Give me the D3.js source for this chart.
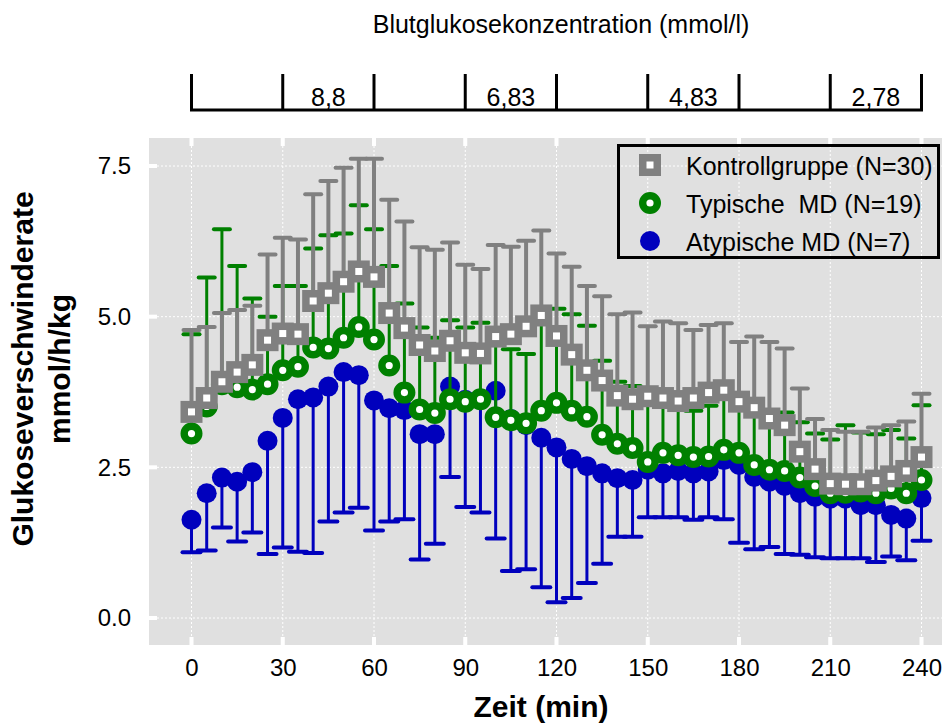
<!DOCTYPE html>
<html>
<head>
<meta charset="utf-8">
<script src="https://cdn.jsdelivr.net/npm/d3@7"></script>
<style>
  body { margin: 0; background: #fff; }
  svg { display: block; font-family: "Liberation Sans", Arial, sans-serif; }
</style>
</head>
<body>
<svg id="chart" width="942" height="727"></svg>
<script>
// time points (min)
const minutes = [0, 5, 10, 15, 20, 25, 30, 35, 40, 45, 50, 55, 60, 65, 70, 75, 80, 85, 90, 95,
  100, 105, 110, 115, 120, 125, 130, 135, 140, 145, 150, 155, 160, 165, 170, 175, 180, 185, 190, 195,
  200, 205, 210, 215, 220, 225, 230, 235, 240];

// Kontrollgruppe: mean and SD (drawn upwards)
const kontrollMean = [3.42, 3.65, 3.92, 4.08, 4.20, 4.61, 4.72, 4.71, 5.26, 5.39, 5.58, 5.75, 5.66, 5.06, 4.81, 4.53, 4.43, 4.60, 4.40, 4.39,
  4.67, 4.71, 4.84, 5.02, 4.68, 4.37, 4.11, 3.94, 3.69, 3.63, 3.68, 3.65, 3.60, 3.65, 3.74, 3.78, 3.59, 3.49, 3.31, 3.20,
  2.76, 2.47, 2.23, 2.22, 2.22, 2.28, 2.35, 2.44, 2.67];
const kontrollSd = [1.36, 1.18, 1.14, 1.03, 0.98, 1.42, 1.59, 1.57, 1.77, 1.86, 1.89, 1.87, 1.96, 1.88, 1.77, 1.62, 1.68, 1.63, 1.46, 1.40,
  1.52, 1.45, 1.42, 1.41, 1.37, 1.46, 1.40, 1.40, 1.35, 1.44, 1.16, 1.27, 1.29, 1.13, 1.12, 1.11, 0.99, 1.18, 1.27, 1.27,
  1.05, 0.83, 0.89, 0.87, 0.87, 0.88, 0.85, 0.82, 1.05];

// Typische MD: mean and SD (drawn upwards)
const typischMean = [3.06, 3.51, 3.88, 3.83, 3.79, 3.88, 4.11, 4.17, 4.49, 4.47, 4.65, 4.83, 4.62, 4.19, 3.74, 3.46, 3.40, 3.63, 3.59, 3.63,
  3.33, 3.28, 3.23, 3.44, 3.57, 3.44, 3.34, 3.04, 2.89, 2.82, 2.59, 2.74, 2.70, 2.67, 2.68, 2.79, 2.74, 2.54, 2.46, 2.44,
  2.33, 2.19, 2.07, 2.08, 2.10, 2.07, 2.15, 2.07, 2.29];
const typischSd = [1.65, 2.14, 2.57, 2.01, 1.51, 1.12, 1.40, 1.34, 1.64, 1.88, 1.73, 2.02, 1.83, 1.65, 1.48, 1.36, 1.25, 1.31, 1.23, 1.27,
  1.22, 1.18, 1.15, 1.61, 1.56, 1.60, 1.51, 1.23, 1.03, 1.03, 1.16, 0.91, 0.90, 0.77, 0.84, 0.96, 0.86, 0.96, 0.96, 0.97,
  0.92, 0.87, 0.89, 1.12, 0.98, 0.98, 0.97, 0.91, 1.24];

// Atypische MD: mean and SD (drawn downwards)
const atypischMean = [1.63, 2.07, 2.33, 2.26, 2.42, 2.94, 3.32, 3.63, 3.66, 3.84, 4.08, 4.03, 3.61, 3.48, 3.45, 3.05, 3.05, 3.84, 3.62, 3.62,
  3.77, 3.30, 3.20, 2.99, 2.83, 2.64, 2.52, 2.40, 2.32, 2.29, 2.46, 2.40, 2.44, 2.40, 2.43, 2.62, 2.54, 2.34, 2.26, 2.19,
  2.07, 2.01, 1.98, 1.98, 1.87, 1.87, 1.71, 1.65, 1.99];
const atypischSd = [0.54, 0.95, 0.83, 0.99, 1.00, 1.88, 2.15, 2.53, 2.58, 2.24, 2.33, 2.20, 2.16, 1.88, 1.81, 2.08, 1.82, 1.50, 1.78, 1.87,
  2.45, 2.52, 2.39, 2.48, 2.57, 2.31, 1.94, 1.50, 0.97, 0.94, 0.79, 0.73, 0.77, 0.77, 0.76, 0.98, 1.29, 1.20, 1.08, 1.13,
  1.02, 1.00, 0.99, 0.99, 0.88, 0.94, 0.69, 0.69, 0.71];

// axes
const xTicks = [0, 30, 60, 90, 120, 150, 180, 210, 240];
const yTicks = [0, 2.5, 5, 7.5];

// glucose clamp steps on the top axis
const glucoseLabels = ['8,8', '6,83', '4,83', '2,78'];
const glucoseSpans = [[30, 60], [90, 120], [150, 180], [210, 240]];

const legendLabels = ['Kontrollgruppe (N=30)', 'Typische  MD (N=19)', 'Atypische MD (N=7)'];

const colors = {
  kontroll: '#808080',
  typisch: '#008000',
  atypisch: '#0000bd',
  panel: '#e0e0e0'
};

const svg = d3.select('#chart');

// plot panel
const panel = { left: 149, top: 138, right: 942, bottom: 645 };
const x = d3.scaleLinear().domain([0, 240]).range([191.5, 921.5]);
const y = d3.scaleLinear().domain([0, 7.5]).range([618, 166]);

svg.append('rect')
  .attr('x', panel.left)
  .attr('y', panel.top)
  .attr('width', panel.right - panel.left)
  .attr('height', panel.bottom - panel.top)
  .attr('fill', colors.panel);

// dotted white grid
const grid = svg.append('g')
  .attr('stroke', '#fff')
  .attr('stroke-width', 1)
  .attr('stroke-dasharray', '2,2');

grid.selectAll('line.gx')
  .data(xTicks)
  .enter()
  .append('line')
  .attr('x1', d => x(d))
  .attr('x2', d => x(d))
  .attr('y1', panel.top)
  .attr('y2', panel.bottom);

grid.selectAll('line.gy')
  .data(yTicks)
  .enter()
  .append('line')
  .attr('x1', panel.left)
  .attr('x2', panel.right)
  .attr('y1', d => y(d))
  .attr('y2', d => y(d));

// white inward tick notches
const notches = svg.append('g').attr('fill', '#fff');
notches.selectAll('rect.top')
  .data(xTicks)
  .enter()
  .append('rect')
  .attr('x', d => x(d) - 2)
  .attr('y', panel.top)
  .attr('width', 4)
  .attr('height', 8);
notches.selectAll('rect.bottom')
  .data(xTicks)
  .enter()
  .append('rect')
  .attr('x', d => x(d) - 2)
  .attr('y', panel.bottom - 8)
  .attr('width', 4)
  .attr('height', 8);
notches.selectAll('rect.left')
  .data(yTicks)
  .enter()
  .append('rect')
  .attr('x', panel.left)
  .attr('y', d => y(d) - 2)
  .attr('width', 8)
  .attr('height', 4);

// tick labels through d3 axes
const xAxis = svg.append('g')
  .attr('transform', `translate(0, ${panel.bottom})`)
  .call(d3.axisBottom(x).tickValues(xTicks).tickSize(0).tickPadding(14));

const yAxis = svg.append('g')
  .attr('transform', `translate(${panel.left}, 0)`)
  .call(d3.axisLeft(y).tickValues(yTicks).tickSize(0).tickPadding(18).tickFormat(d3.format('.1f')));

[xAxis, yAxis].forEach((g) => {
  g.select('.domain').remove();
  g.selectAll('text')
    .attr('font-family', '"Liberation Sans", Arial, sans-serif')
    .attr('font-size', 24)
    .attr('fill', '#000');
});

// axis titles
svg.append('text')
  .attr('x', 541)
  .attr('y', 717)
  .attr('text-anchor', 'middle')
  .attr('font-size', 30)
  .attr('font-weight', 'bold')
  .text('Zeit (min)');

const yTitle = svg.append('text')
  .attr('transform', 'translate(0, 369) rotate(-90)')
  .attr('text-anchor', 'middle')
  .attr('font-size', 30)
  .attr('font-weight', 'bold');
yTitle.append('tspan').attr('x', 0).attr('y', 33).text('Glukoseverschwinderate');
yTitle.append('tspan').attr('x', 0).attr('y', 70).text('mmol/h/kg');

// top axis: glucose concentration brackets
svg.append('text')
  .attr('x', 561)
  .attr('y', 33)
  .attr('text-anchor', 'middle')
  .attr('font-size', 25)
  .text('Blutglukosekonzentration (mmol/l)');

const bracket = svg.append('g')
  .attr('stroke', '#000')
  .attr('stroke-width', 3);

bracket.append('line')
  .attr('x1', x(0) - 1.5)
  .attr('x2', x(240) + 1.5)
  .attr('y1', 110)
  .attr('y2', 110);

bracket.selectAll('line.tick')
  .data(xTicks)
  .enter()
  .append('line')
  .attr('x1', d => x(d))
  .attr('x2', d => x(d))
  .attr('y1', 74)
  .attr('y2', 110);

svg.append('g')
  .selectAll('text')
  .data(glucoseLabels)
  .enter()
  .append('text')
  .attr('x', (d, i) => x((glucoseSpans[i][0] + glucoseSpans[i][1]) / 2))
  .attr('y', 106)
  .attr('text-anchor', 'middle')
  .attr('font-size', 25)
  .text(d => d);

// series: error bars first, markers on top
function errorBars(mean, sd, direction, color, lineWidth, capWidth) {
  const g = svg.append('g');
  const end = i => mean[i] + direction * sd[i];
  g.selectAll('line.bar')
    .data(minutes)
    .enter()
    .append('line')
    .attr('x1', d => x(d))
    .attr('x2', d => x(d))
    .attr('y1', (d, i) => y(mean[i]))
    .attr('y2', (d, i) => y(end(i)))
    .attr('stroke', color)
    .attr('stroke-width', lineWidth);
  g.selectAll('line.cap')
    .data(minutes)
    .enter()
    .append('line')
    .attr('x1', d => x(d) - capWidth / 2)
    .attr('x2', d => x(d) + capWidth / 2)
    .attr('y1', (d, i) => y(end(i)))
    .attr('y2', (d, i) => y(end(i)))
    .attr('stroke', color)
    .attr('stroke-width', 4)
    .attr('stroke-linecap', 'round');
  return g;
}

function squareMarker(g, cx, cy) {
  g.append('rect')
    .attr('x', cx - 11).attr('y', cy - 11)
    .attr('width', 22).attr('height', 22)
    .attr('fill', colors.kontroll);
  g.append('rect')
    .attr('x', cx - 3.5).attr('y', cy - 3.5)
    .attr('width', 7).attr('height', 7)
    .attr('fill', '#fff');
}

function ringMarker(g, cx, cy) {
  g.append('circle')
    .attr('cx', cx).attr('cy', cy)
    .attr('r', 7.3)
    .attr('fill', '#fff')
    .attr('stroke', colors.typisch)
    .attr('stroke-width', 7.4);
}

function dotMarker(g, cx, cy) {
  g.append('circle')
    .attr('cx', cx).attr('cy', cy)
    .attr('r', 10)
    .attr('fill', colors.atypisch);
}

// Atypische MD (bottom layer)
const gAtyp = errorBars(atypischMean, atypischSd, -1, colors.atypisch, 3, 18);
minutes.forEach((t, i) => dotMarker(gAtyp, x(t), y(atypischMean[i])));

// Typische MD
const gTyp = errorBars(typischMean, typischSd, 1, colors.typisch, 3, 16);
minutes.forEach((t, i) => ringMarker(gTyp, x(t), y(typischMean[i])));

// Kontrollgruppe (top layer)
const gKon = errorBars(kontrollMean, kontrollSd, 1, colors.kontroll, 4, 16);
minutes.forEach((t, i) => squareMarker(gKon, x(t), y(kontrollMean[i])));

// legend
const legend = svg.append('g');
legend.append('rect')
  .attr('x', 618.5)
  .attr('y', 145.5)
  .attr('width', 320)
  .attr('height', 112)
  .attr('fill', 'none')
  .attr('stroke', '#000')
  .attr('stroke-width', 3);

const legendMarkers = [squareMarker, ringMarker, dotMarker];
const legendRows = [165, 203, 241];
legendLabels.forEach((label, i) => {
  legendMarkers[i](legend, 650, legendRows[i]);
  legend.append('text')
    .attr('x', 686)
    .attr('y', legendRows[i] + 10)
    .attr('font-size', 25)
    .attr('xml:space', 'preserve')
    .style('white-space', 'pre')
    .text(label);
});
</script>
</body>
</html>
